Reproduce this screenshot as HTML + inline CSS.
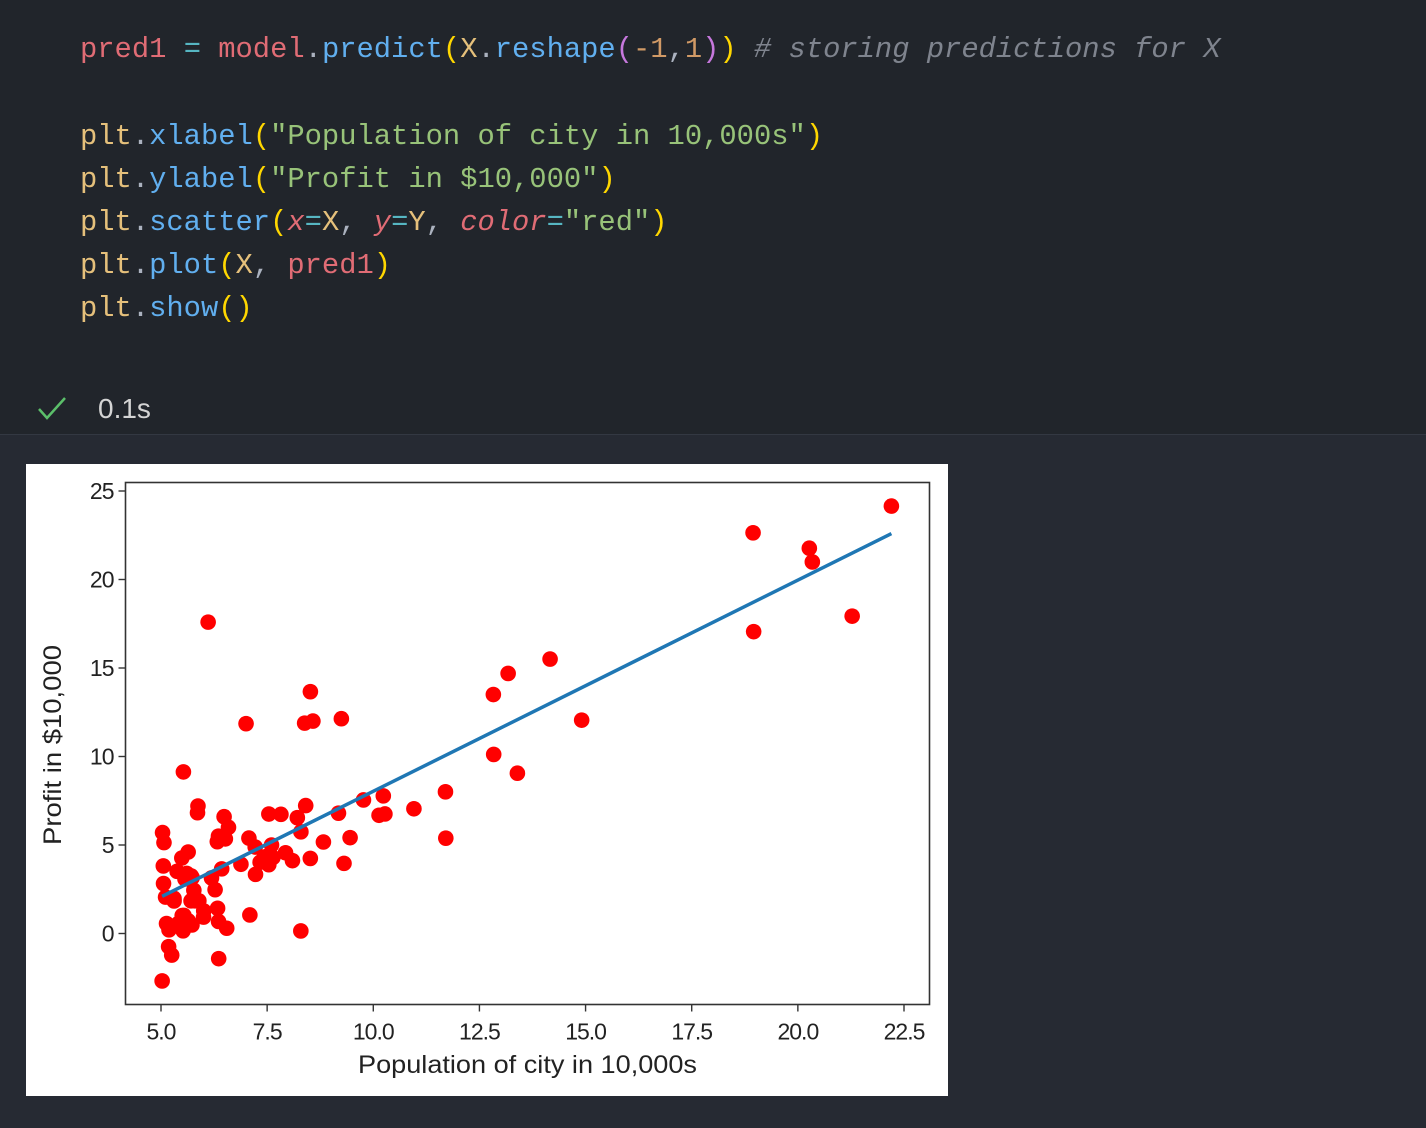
<!DOCTYPE html>
<html><head><meta charset="utf-8"><style>
body{margin:0;width:1426px;height:1128px;background:#262a33;overflow:hidden;font-family:"Liberation Sans",sans-serif}
#top{position:absolute;left:0;top:0;width:1426px;height:434px;background:#21252b;border-bottom:1px solid #333842}
.code{position:absolute;left:80px;font-family:"Liberation Mono",monospace;font-size:28.8px;color:#abb2bf;white-space:pre;line-height:1}
.r{color:#e06c75}.c{color:#56b6c2}.b{color:#61afef}.y{color:#e5c07b}.p{color:#ffd700}.m{color:#c678dd}.o{color:#d19a66}.g{color:#98c379}.cm{color:#7f848e;font-style:italic}.i{font-style:italic;color:#e06c75}.w{color:#abb2bf}
#chart{position:absolute;left:26px;top:464px;width:922px;height:632px;background:#fff}
</style></head><body>
<div id="top">
<div class="code" style="top:36px"><span class="r">pred1</span> <span class="c">=</span> <span class="r">model</span>.<span class="b">predict</span><span class="p">(</span><span class="y">X</span>.<span class="b">reshape</span><span class="m">(</span><span class="o">-1</span>,<span class="o">1</span><span class="m">)</span><span class="p">)</span> <span class="cm"># storing predictions for X</span></div>
<div class="code" style="top:123px"><span class="y">plt</span>.<span class="b">xlabel</span><span class="p">(</span><span class="g">"Population of city in 10,000s"</span><span class="p">)</span></div>
<div class="code" style="top:166px"><span class="y">plt</span>.<span class="b">ylabel</span><span class="p">(</span><span class="g">"Profit in $10,000"</span><span class="p">)</span></div>
<div class="code" style="top:209px"><span class="y">plt</span>.<span class="b">scatter</span><span class="p">(</span><span class="i">x</span><span class="c">=</span><span class="y">X</span>, <span class="i">y</span><span class="c">=</span><span class="y">Y</span>, <span class="i">color</span><span class="c">=</span><span class="g">"red"</span><span class="p">)</span></div>
<div class="code" style="top:252px"><span class="y">plt</span>.<span class="b">plot</span><span class="p">(</span><span class="y">X</span>, <span class="r">pred1</span><span class="p">)</span></div>
<div class="code" style="top:295px"><span class="y">plt</span>.<span class="b">show</span><span class="p">()</span></div>
<svg style="position:absolute;left:36px;top:394px" width="32" height="28"><polyline points="3,15 11,24 29,4" fill="none" stroke="#5bbf6a" stroke-width="2.5"/></svg>
<div style="position:absolute;left:98px;top:393px;font-size:28px;color:#d4d4d4">0.1s</div>
</div>
<div id="chart">
<svg id="svg" width="922" height="632"></svg>
</div>
<script>
const xs=[6.1101,5.5277,8.5186,7.0032,5.8598,8.3829,7.4764,8.5781,6.4862,5.0546,5.7107,14.164,5.734,8.4084,5.6407,5.3794,6.3654,5.1301,6.4296,7.0708,6.1891,20.27,5.4901,6.3261,5.5649,18.945,12.828,10.957,13.176,22.203,5.2524,6.5894,9.2482,5.8918,8.2111,7.9334,8.0959,5.6063,12.836,6.3534,5.4069,6.8825,11.708,5.7737,7.8247,7.0931,5.0702,5.8014,11.7,5.5416,7.5402,5.3077,7.4239,7.6031,6.3328,6.3589,6.2742,5.6397,9.3102,9.4536,8.8254,5.1793,21.279,14.908,18.959,7.2182,8.2951,10.236,5.4994,20.341,10.136,7.3345,6.0062,7.2259,5.0269,6.5479,7.5386,5.0365,10.274,5.1077,5.7292,5.1884,6.3557,9.7687,6.5159,8.5172,9.1802,6.002,5.5204,5.0594,5.7077,7.6366,5.8707,5.3054,8.2934,13.394,5.4369];
const ys=[17.592,9.1302,13.662,11.854,6.8233,11.886,4.3483,12,6.5987,3.8166,3.2522,15.505,3.1551,7.2258,0.71618,3.5129,5.3048,0.56077,3.6518,5.3893,3.1386,21.767,4.263,5.1875,3.0825,22.638,13.501,7.0467,14.692,24.147,-1.22,5.9966,12.134,1.8495,6.5426,4.5623,4.1164,3.3928,10.117,5.4974,0.55657,3.9115,5.3854,2.4406,6.7318,1.0463,5.1337,1.844,8.0043,1.0179,6.7504,1.8396,4.2885,4.9981,1.4233,-1.4211,2.4756,4.6042,3.9624,5.4141,5.1694,-0.74279,17.929,12.054,17.054,4.8852,5.7442,7.7754,1.0173,20.992,6.6799,4.0259,1.2784,3.3411,-2.6807,0.29678,3.8845,5.7014,6.7526,2.0576,0.47953,0.20421,0.67861,7.5435,5.3436,4.2415,6.7981,0.92695,0.152,2.8214,1.8451,4.2959,7.2029,1.9869,0.14454,9.0551,0.61705];
const theta=[-3.8958,1.1930];
const xticks=[5.0,7.5,10.0,12.5,15.0,17.5,20.0,22.5];
const yticks=[0,5,10,15,20,25];
const NS='http://www.w3.org/2000/svg',svg=document.getElementById('svg');
const ox=26,oy=464;
const sx=v=>161+(v-5)*(904-161)/17.5-ox;
const sy=v=>933.5-v*(933.5-491)/25-oy;
function mk(t,a){const e=document.createElementNS(NS,t);for(const k in a)e.setAttribute(k,a[k]);svg.appendChild(e);return e;}
const L=125.5-ox,T=482.5-oy,R=929.5-ox,B=1004.5-oy;
for(let i=0;i<xs.length;i++){const c=mk('circle',{cx:sx(xs[i]),cy:sy(ys[i]),r:7.8,fill:'#ff0000'});

}
const xmin=Math.min(...xs),xmax=Math.max(...xs);
const ln=mk('line',{x1:sx(xmin),y1:sy(theta[0]+theta[1]*xmin),x2:sx(xmax),y2:sy(theta[0]+theta[1]*xmax),stroke:'#1f77b4','stroke-width':3.5});


const fr=mk('rect',{x:L,y:T,width:R-L,height:B-T,fill:'none',stroke:'#333','stroke-width':1.6});


xticks.forEach(v=>{const x=sx(v);mk('line',{x1:x,y1:B,x2:x,y2:B+7,stroke:'#333','stroke-width':1.4});
const t=mk('text',{x:x,y:B+35,'text-anchor':'middle','font-size':23,fill:'#222','font-family':'Liberation Sans, sans-serif','letter-spacing':'-1'});t.textContent=v.toFixed(1);

});
yticks.forEach(v=>{const y=sy(v);mk('line',{x1:L-7,y1:y,x2:L,y2:y,stroke:'#333','stroke-width':1.4});
const t=mk('text',{x:L-12,y:y+8,'text-anchor':'end','font-size':23,fill:'#222','font-family':'Liberation Sans, sans-serif','letter-spacing':'-1'});t.textContent=v;

});
const xt=mk('text',{x:(L+R)/2,y:609,'text-anchor':'middle','font-size':25,fill:'#222','font-family':'Liberation Sans, sans-serif',textLength:339,lengthAdjust:'spacingAndGlyphs'});xt.textContent='Population of city in 10,000s';


const yt=mk('text',{x:0,y:0,'text-anchor':'middle','font-size':25,fill:'#222','font-family':'Liberation Sans, sans-serif',textLength:200,lengthAdjust:'spacingAndGlyphs',transform:'translate(35,281) rotate(-90)'});yt.textContent='Profit in $10,000';


</script>
</body></html>
